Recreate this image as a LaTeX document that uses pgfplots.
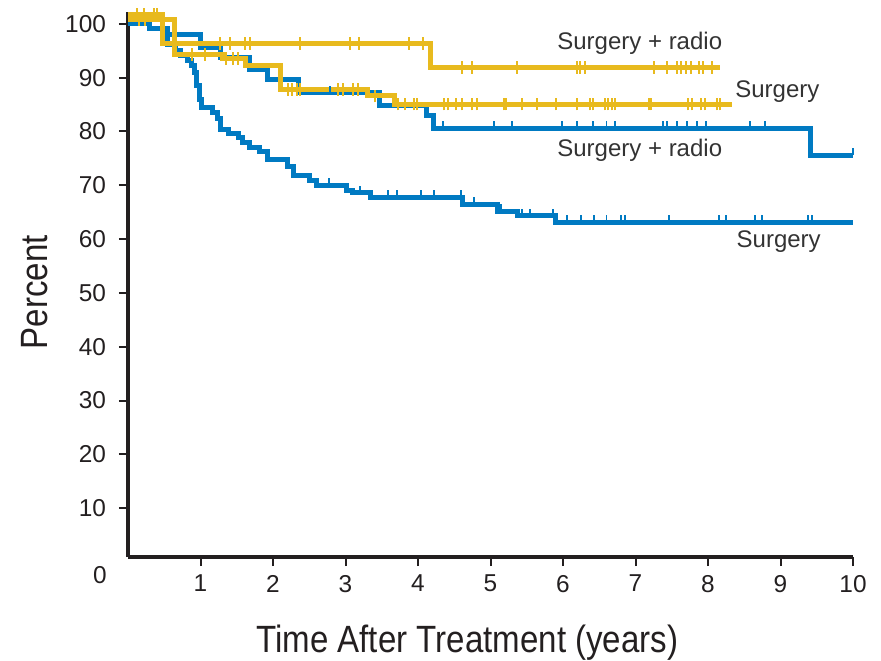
\documentclass[border=0pt]{standalone}
\usepackage{fontspec}
\setmainfont{Liberation Sans}
\newfontfamily\condfont[FakeStretch=0.87]{Liberation Sans}
\usepackage{pgfplots}
\pgfplotsset{compat=1.18}

\definecolor{kmblue}{RGB}{0,122,194}
\definecolor{kmyellow}{RGB}{232,186,30}
\definecolor{txtgray}{RGB}{51,51,51}
\definecolor{axisblack}{RGB}{35,31,32}

% censoring marks: upward tick for the blue curves, crossing bar for the yellow ones
\pgfdeclareplotmark{censup}{%
  \pgfpathmoveto{\pgfpointorigin}%
  \pgfpathlineto{\pgfqpoint{0pt}{3.6pt}}%
  \pgfusepathqstroke}
\pgfdeclareplotmark{censbar}{%
  \pgfpathmoveto{\pgfqpoint{0pt}{-3.2pt}}%
  \pgfpathlineto{\pgfqpoint{0pt}{3.2pt}}%
  \pgfusepathqstroke}

\begin{document}
\begin{tikzpicture}
\useasboundingbox (-64pt,-51.5pt) rectangle (376.5pt,278.5pt);
\begin{axis}[
  at={(0,0)}, anchor=south west,
  scale only axis, width=362.5pt, height=272.5pt,
  xmin=0, xmax=10, ymin=0.93, ymax=102.2,
  axis x line*=bottom, axis y line*=left,
  axis line style={-, line width=2pt, axisblack},
  xtick={1,...,10}, ytick={10,20,...,100},
  extra x ticks={0},
  extra x tick style={major tick length=0pt, tick label style={xshift=-14pt}},
  tick align=outside, major tick length=4.5pt,
  tick style={line width=1pt, axisblack},
  /pgf/number format/assume math mode=true,
  tick label style={font=\fontsize{12.2}{14}\selectfont, text=axisblack},
  xticklabel style={yshift=-1pt},
  yticklabel style={xshift=-3pt},
  xlabel={\condfont Time After Treatment (years)},
  ylabel={\condfont Percent},
  label style={font=\fontsize{19}{22}\selectfont, text=axisblack},
  xlabel style={at={(axis description cs:0.468,-0.1743)}, anchor=base},
  ylabel style={at={(axis description cs:-0.1117,0.486)}, anchor=base},
  clip=false,
]
% Surgery (blue)
\addplot[const plot, kmblue, line width=2.5pt] coordinates {
  (0,100) (0.30,99.2) (0.47,97.6) (0.55,96.1) (0.65,95.0) (0.72,94.2)
  (0.82,93.1) (0.88,92.3) (0.92,90.9) (0.95,88.5) (0.98,86.0) (1.02,84.4)
  (1.17,83.6) (1.23,82.5) (1.27,80.3) (1.38,79.6) (1.52,78.9) (1.58,78.0)
  (1.68,77.1) (1.82,76.2) (1.92,74.7) (2.20,73.4) (2.28,71.9) (2.51,70.8)
  (2.60,70.0) (3.02,69.1) (3.10,68.6) (3.34,67.7) (4.61,66.4) (5.10,65.2)
  (5.37,64.3) (5.89,63.1) (10.00,63.1)};
\addplot[only marks, mark=censup, kmblue, mark options={line width=0.9pt}] coordinates {
  (2.77,70.0) (3.20,68.6) (3.59,67.7) (3.71,67.7) (4.04,67.7) (4.22,67.7)
  (4.59,67.7) (4.77,66.4) (5.14,65.2) (5.43,64.3) (5.54,64.3) (5.86,64.3)
  (6.06,63.1) (6.25,63.1) (6.43,63.1) (6.60,63.1) (6.80,63.1) (6.86,63.1)
  (7.46,63.1) (8.15,63.1) (8.25,63.1) (8.65,63.1) (8.74,63.1) (9.38,63.1)
  (9.43,63.1)};
% Surgery + radio (blue)
\addplot[const plot, kmblue, line width=2.5pt] coordinates {
  (0,100) (0.30,99.2) (0.55,98.1) (1.00,95.6) (1.27,93.7) (1.68,91.6)
  (1.93,89.7) (2.35,87.2) (3.47,84.9) (4.12,83.0) (4.21,80.6) (9.41,75.6)
  (10.00,75.6)};
\addplot[only marks, mark=censup, kmblue, mark options={line width=0.9pt}] coordinates {
  (2.79,87.2) (4.35,80.6) (5.05,80.6) (5.30,80.6) (5.99,80.6) (6.19,80.6)
  (6.41,80.6) (6.60,80.6) (6.72,80.6) (7.38,80.6) (7.43,80.6) (7.57,80.6)
  (7.71,80.6) (7.85,80.6) (7.97,80.6) (8.58,80.6) (8.79,80.6) (10.00,75.6)};
% Surgery + radio (yellow)
\addplot[const plot, kmyellow, line width=2.5pt] coordinates {
  (0,101.7) (0.48,96.4) (4.17,91.9) (8.17,91.9)};
\addplot[only marks, mark=censbar, kmyellow, mark options={line width=1pt}] coordinates {
  (0.13,101.7) (0.22,101.7) (0.36,101.7) (0.40,101.7)
  (1.27,96.4) (1.41,96.4) (1.61,96.4) (1.68,96.4) (2.37,96.4) (3.06,96.4)
  (3.18,96.4) (3.87,96.4) (4.07,96.4)
  (4.60,91.9) (4.74,91.9) (5.36,91.9) (6.19,91.9) (6.23,91.9) (6.30,91.9)
  (7.25,91.9) (7.43,91.9) (7.57,91.9) (7.63,91.9) (7.70,91.9) (7.77,91.9)
  (7.87,91.9) (7.93,91.9) (8.05,91.9)};
% Surgery (yellow)
\addplot[const plot, kmyellow, line width=2.5pt] coordinates {
  (0,100.8) (0.64,94.3) (1.30,93.5) (1.62,92.2) (2.10,87.8) (3.31,86.6)
  (3.68,85.1) (8.33,85.1)};
\addplot[only marks, mark=censbar, kmyellow, mark options={line width=1pt}] coordinates {
  (0.15,100.8) (0.23,100.8) (0.88,94.3) (1.06,94.3)
  (1.35,93.5) (1.45,93.5) (1.52,93.5)
  (2.21,87.8) (2.26,87.8) (2.33,87.8) (2.37,87.8) (2.90,87.8) (2.97,87.8)
  (3.10,87.8) (3.17,87.8) (3.40,86.6)
  (3.72,85.1) (3.82,85.1) (3.95,85.1) (3.99,85.1) (4.36,85.1) (4.41,85.1)
  (4.53,85.1) (4.60,85.1) (4.74,85.1) (4.81,85.1) (5.18,85.1) (5.22,85.1)
  (5.43,85.1) (5.64,85.1) (5.91,85.1) (6.19,85.1) (6.37,85.1) (6.42,85.1)
  (6.58,85.1) (6.62,85.1) (6.67,85.1) (6.72,85.1) (7.18,85.1) (7.22,85.1)
  (7.73,85.1) (7.78,85.1) (7.91,85.1) (7.96,85.1) (8.12,85.1) (8.17,85.1)};
% curve labels
\begin{scope}[every node/.style={font=\fontsize{12}{14}\selectfont, text=txtgray, inner sep=0pt, anchor=base west}]
\node at (axis cs:5.917,95.3) {Surgery + radio};
\node at (axis cs:8.372,86.4) {Surgery};
\node at (axis cs:5.917,75.4) {Surgery + radio};
\node at (axis cs:8.39,58.4) {Surgery};
\end{scope}
\end{axis}
\end{tikzpicture}
\end{document}
